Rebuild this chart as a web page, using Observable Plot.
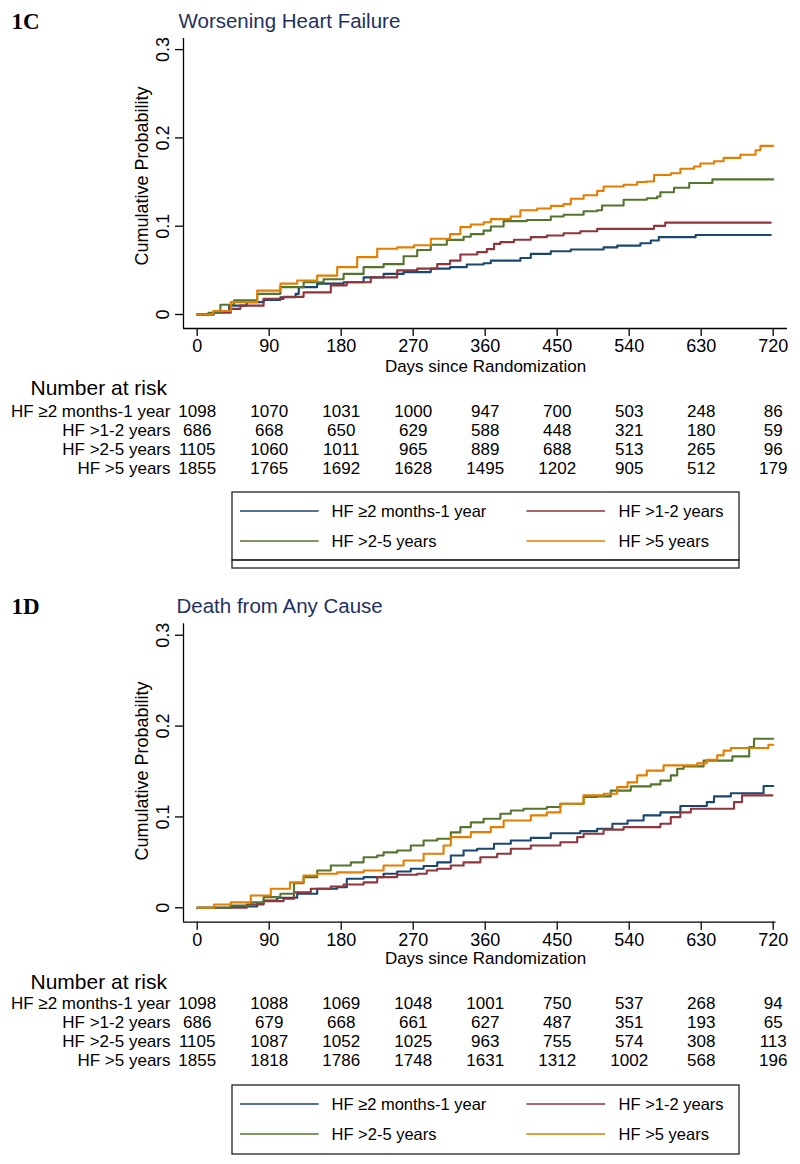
<!DOCTYPE html>
<html><head><meta charset="utf-8">
<script src="https://cdn.jsdelivr.net/npm/d3@7"></script>
<script src="https://cdn.jsdelivr.net/npm/@observablehq/plot@0.6"></script>
<style>
body{margin:0;background:#fff;}
#root{position:relative;width:800px;height:1164px;overflow:hidden;background:#fff;}
#root > svg, #root > div{position:absolute;left:0;}
</style></head><body><div id="root"></div>
<script>
// ---------------- data ----------------
const groups = ["HF ≥2 months-1 year", "HF >1-2 years", "HF >2-5 years", "HF >5 years"];
const colors = ["#1a476f", "#90353b", "#55752f", "#e37e00"];
const xTicks = [0, 90, 180, 270, 360, 450, 540, 630, 720];
const yTicks = [0, 0.1, 0.2, 0.3];
const riskDays = [0, 90, 180, 270, 360, 450, 540, 630, 720];

// 1C Worsening Heart Failure: [day, cumulative probability]
const whf_2m1y = [[0,0],[21,0.003],[40,0.010],[62,0.014],[83,0.0166],[104,0.0196],[123,0.0234],[127,0.031],[150,0.035],[183,0.0366],[208,0.042],[233,0.046],[258,0.048],[292,0.052],[316,0.0536],[337,0.0566],[358,0.058],[367,0.061],[404,0.064],[417,0.0687],[442,0.0717],[467,0.0736],[508,0.076],[525,0.078],[554,0.0807],[567,0.0838],[577,0.0876],[623,0.090],[717,0.090]];
const whf_1_2 = [[0,0],[20,0.002],[42,0.0064],[54,0.010],[83,0.0177],[108,0.020],[133,0.025],[167,0.033],[187,0.0366],[217,0.042],[250,0.050],[275,0.052],[300,0.057],[316,0.061],[329,0.068],[350,0.0706],[362,0.074],[371,0.080],[379,0.082],[396,0.0846],[417,0.0876],[437,0.0895],[458,0.092],[479,0.0943],[500,0.097],[571,0.1004],[585,0.104],[717,0.104]];
const whf_2_5 = [[0,0],[14,0.002],[29,0.011],[46,0.016],[75,0.0234],[104,0.031],[133,0.0366],[158,0.040],[183,0.046],[208,0.0536],[233,0.057],[258,0.066],[275,0.073],[292,0.079],[312,0.0845],[333,0.088],[342,0.091],[358,0.095],[367,0.0997],[383,0.1057],[412,0.107],[442,0.111],[458,0.113],[483,0.117],[500,0.118],[506,0.1234],[533,0.130],[562,0.1317],[575,0.1336],[579,0.1385],[596,0.1435],[615,0.149],[644,0.153],[720,0.153]];
const whf_5 = [[0,0],[20,0.004],[42,0.014],[75,0.027],[104,0.035],[125,0.0385],[150,0.044],[175,0.0536],[200,0.065],[225,0.0744],[250,0.076],[271,0.0785],[292,0.0857],[316,0.091],[329,0.099],[342,0.102],[358,0.1045],[367,0.108],[392,0.111],[404,0.118],[425,0.120],[442,0.123],[458,0.125],[467,0.131],[483,0.135],[500,0.140],[508,0.145],[533,0.147],[550,0.150],[562,0.1506],[571,0.158],[592,0.160],[604,0.165],[621,0.1676],[629,0.171],[646,0.1736],[658,0.1774],[679,0.181],[698,0.186],[704,0.191],[720,0.191]];

// 1D Death from Any Cause
const dac_2m1y = [[0,0],[42,0.0015],[75,0.005],[83,0.008],[100,0.011],[125,0.0154],[150,0.021],[175,0.0227],[187,0.032],[208,0.0337],[233,0.0374],[250,0.040],[267,0.043],[283,0.046],[300,0.050],[317,0.0576],[333,0.063],[350,0.065],[371,0.0705],[392,0.074],[417,0.077],[442,0.082],[479,0.0844],[500,0.087],[519,0.0925],[538,0.096],[558,0.1017],[579,0.105],[604,0.112],[637,0.1163],[646,0.1226],[667,0.126],[708,0.134],[720,0.134]];
const dac_1_2 = [[0,0],[62,0.0036],[83,0.0073],[108,0.010],[121,0.017],[142,0.021],[167,0.0235],[183,0.0257],[208,0.028],[225,0.0337],[250,0.0363],[275,0.0374],[287,0.041],[300,0.043],[317,0.0466],[333,0.050],[354,0.0557],[375,0.0595],[392,0.065],[417,0.0686],[454,0.0722],[475,0.0778],[483,0.0815],[508,0.086],[533,0.0888],[579,0.0925],[592,0.0998],[604,0.105],[617,0.109],[671,0.1163],[681,0.1237],[719,0.1237]];
const dac_2_5 = [[0,0],[42,0.0025],[67,0.006],[83,0.0117],[104,0.0154],[121,0.027],[133,0.0337],[150,0.041],[167,0.0466],[192,0.050],[208,0.0557],[225,0.0576],[233,0.061],[250,0.063],[267,0.0686],[283,0.074],[300,0.076],[317,0.083],[329,0.0888],[342,0.094],[358,0.098],[379,0.1035],[392,0.107],[408,0.109],[437,0.111],[454,0.1145],[483,0.122],[500,0.1226],[517,0.129],[542,0.1336],[567,0.1358],[579,0.140],[592,0.1457],[600,0.153],[608,0.1556],[633,0.162],[669,0.1666],[690,0.177],[696,0.186],[720,0.186]];
const dac_5 = [[0,0],[21,0.0036],[42,0.006],[67,0.0135],[92,0.021],[116,0.028],[133,0.0356],[150,0.0374],[175,0.039],[208,0.041],[233,0.0466],[258,0.052],[283,0.0595],[308,0.0686],[317,0.0778],[342,0.0833],[367,0.0888],[383,0.096],[417,0.1017],[437,0.105],[454,0.1145],[483,0.1237],[508,0.1255],[525,0.1328],[538,0.138],[550,0.1457],[562,0.151],[583,0.1567],[625,0.159],[637,0.163],[650,0.1677],[658,0.173],[667,0.1758],[714,0.1795],[720,0.1795]];

// Number at risk
const nar1C_2m1y = [1098, 1070, 1031, 1000, 947, 700, 503, 248, 86];
const nar1C_1_2 = [686, 668, 650, 629, 588, 448, 321, 180, 59];
const nar1C_2_5 = [1105, 1060, 1011, 965, 889, 688, 513, 265, 96];
const nar1C_5 = [1855, 1765, 1692, 1628, 1495, 1202, 905, 512, 179];
const nar1D_2m1y = [1098, 1088, 1069, 1048, 1001, 750, 537, 268, 94];
const nar1D_1_2 = [686, 679, 668, 661, 627, 487, 351, 193, 65];
const nar1D_2_5 = [1105, 1087, 1052, 1025, 963, 755, 574, 308, 113];
const nar1D_5 = [1855, 1818, 1786, 1748, 1631, 1312, 1002, 568, 196];

// ---------------- layout ----------------
const FONT = '"Liberation Sans", Arial, Helvetica, sans-serif';
const SERIF = '"Liberation Serif", "Times New Roman", serif';
const X_DOMAIN = [-17.125, 737.875];
const Y_DOMAIN = [-0.01586, 0.31257];
const root = document.getElementById("root");
const baseStyle = {fontFamily: FONT, fontSize: "18px", color: "#000", background: "transparent", overflow: "visible"};

function kmPlot(cfg) {
  const data = [];
  cfg.series.forEach((s, i) => s.forEach(([day, prob]) => data.push({group: groups[i], day, prob})));
  const p = Plot.plot({
    width: 800, height: cfg.height,
    marginLeft: 183, marginRight: 13, marginTop: cfg.frameTop, marginBottom: cfg.height - cfg.frameBottom,
    x: {domain: X_DOMAIN},
    y: {domain: Y_DOMAIN},
    color: {domain: groups, range: colors},
    style: baseStyle,
    marks: [
      Plot.ruleX([X_DOMAIN[0]], {stroke: "#000", strokeWidth: 1.3}),
      Plot.ruleY([Y_DOMAIN[0]], {x1: X_DOMAIN[0], x2: cfg.xAxisEnd, stroke: "#000", strokeWidth: 1.3}),
      Plot.axisX(xTicks, {tickSize: 8, tickPadding: 3, fontSize: 18, label: null, strokeWidth: 1.3}),
      Plot.axisY(yTicks, {tickSize: 8, tickPadding: 7, tickRotate: -90, fontSize: 18, label: null, tickFormat: d => String(d), strokeWidth: 1.3}),
      Plot.line(data, {x: "day", y: "prob", z: "group", stroke: "group", curve: "step-after", strokeWidth: 2.1}),
      Plot.text(["Days since Randomization"], {text: d => d, frameAnchor: "bottom", dy: cfg.xLabelDy, fontSize: 17, textAnchor: "middle", lineAnchor: "middle"}),
      Plot.text(["Cumulative Probability"], {text: d => d, frameAnchor: "left", dx: -41.5, dy: cfg.yLabelDy, rotate: -90, fontSize: 18, textAnchor: "middle", lineAnchor: "middle"}),
      Plot.text([cfg.title], {text: d => d, frameAnchor: "top-left", dx: cfg.titleDx, dy: cfg.titleBaseline - cfg.frameTop, textAnchor: "start", lineAnchor: "bottom", fontSize: 20.5, fill: "#1e3161"}),
      Plot.text([cfg.id], {text: d => d, frameAnchor: "top-left", dx: 11 - 183, dy: cfg.idBaseline - cfg.frameTop, textAnchor: "start", lineAnchor: "bottom", fontSize: 23, fontWeight: "bold", fontFamily: SERIF})
    ]
  });
  p.style.top = cfg.top + "px";
  root.appendChild(p);
}

function riskTable(rows, cfg) {
  const data = [];
  rows.forEach((r, i) => r.forEach((n, j) => data.push({group: groups[i], day: riskDays[j], n})));
  const p = Plot.plot({
    width: 800, height: 110, marginLeft: 183, marginRight: 13, marginTop: 0, marginBottom: 0,
    x: {domain: X_DOMAIN, axis: null},
    y: {type: "point", domain: groups, range: [33, 90], padding: 0},
    style: baseStyle,
    marks: [
      Plot.axisY({tickSize: 0, tickPadding: 13, fontSize: 17, label: null}),
      Plot.text(data, {x: "day", y: "group", text: d => String(d.n), fontSize: 17}),
      Plot.text(["Number at risk"], {text: d => d, frameAnchor: "top-left", dx: 30 - 183, dy: cfg.headerY, textAnchor: "start", lineAnchor: "middle", fontSize: 21})
    ]
  });
  p.style.top = cfg.top + "px";
  root.appendChild(p);
}

function legendBox(cfg) {
  const h = cfg.extra ? 78 : 72;
  const svg = d3.create("svg").attr("width", 800).attr("height", h)
    .style("top", (cfg.top - 2) + "px").style("overflow", "visible")
    .style("font-family", FONT);
  const g = svg.append("g").attr("transform", "translate(0,2)");
  g.append("rect").attr("x", 232).attr("y", 0).attr("width", 507).attr("height", cfg.h)
    .attr("fill", "none").attr("stroke", "#222").attr("stroke-width", 1.3);
  if (cfg.extra) {
    g.append("rect").attr("x", 232).attr("y", cfg.h).attr("width", 507).attr("height", 8)
      .attr("fill", "none").attr("stroke", "#222").attr("stroke-width", 1.3);
  }
  const cols = [{x1: 240, x2: 318.6, tx: 331.5}, {x1: 526.4, x2: 605, tx: 618.6}];
  const rowsY = [19, 49];
  groups.forEach((name, i) => {
    const c = cols[i % 2], y = rowsY[Math.floor(i / 2)];
    g.append("line").attr("x1", c.x1).attr("x2", c.x2).attr("y1", y).attr("y2", y)
      .attr("stroke", colors[i]).attr("stroke-width", 1.6);
    g.append("text").attr("x", c.tx).attr("y", y).attr("dy", "0.35em")
      .attr("font-size", 16.5).attr("fill", "#000").text(name);
  });
  root.appendChild(svg.node());
}

// ---------------- panel 1C ----------------
kmPlot({series: [whf_2m1y, whf_1_2, whf_2_5, whf_5], top: 0, height: 380, frameTop: 38, frameBottom: 328,
  xAxisEnd: 737.875, xLabelDy: 38, yLabelDy: -7.5, title: "Worsening Heart Failure", titleDx: -5,
  titleBaseline: 27, id: "1C", idBaseline: 28.3});
riskTable([nar1C_2m1y, nar1C_1_2, nar1C_2_5, nar1C_5], {top: 378, headerY: 10});
legendBox({top: 492, h: 68, extra: true});

// ---------------- panel 1D ----------------
kmPlot({series: [dac_2m1y, dac_1_2, dac_2_5, dac_5], top: 590, height: 380, frameTop: 33.3, frameBottom: 331.7,
  xAxisEnd: 723.5, xLabelDy: 36.5, yLabelDy: -2, title: "Death from Any Cause", titleDx: -7,
  titleBaseline: 22.5, id: "1D", idBaseline: 23});
riskTable([nar1D_2m1y, nar1D_1_2, nar1D_2_5, nar1D_5], {top: 970, headerY: 12});
legendBox({top: 1084.5, h: 69, extra: false});
</script></body></html>
